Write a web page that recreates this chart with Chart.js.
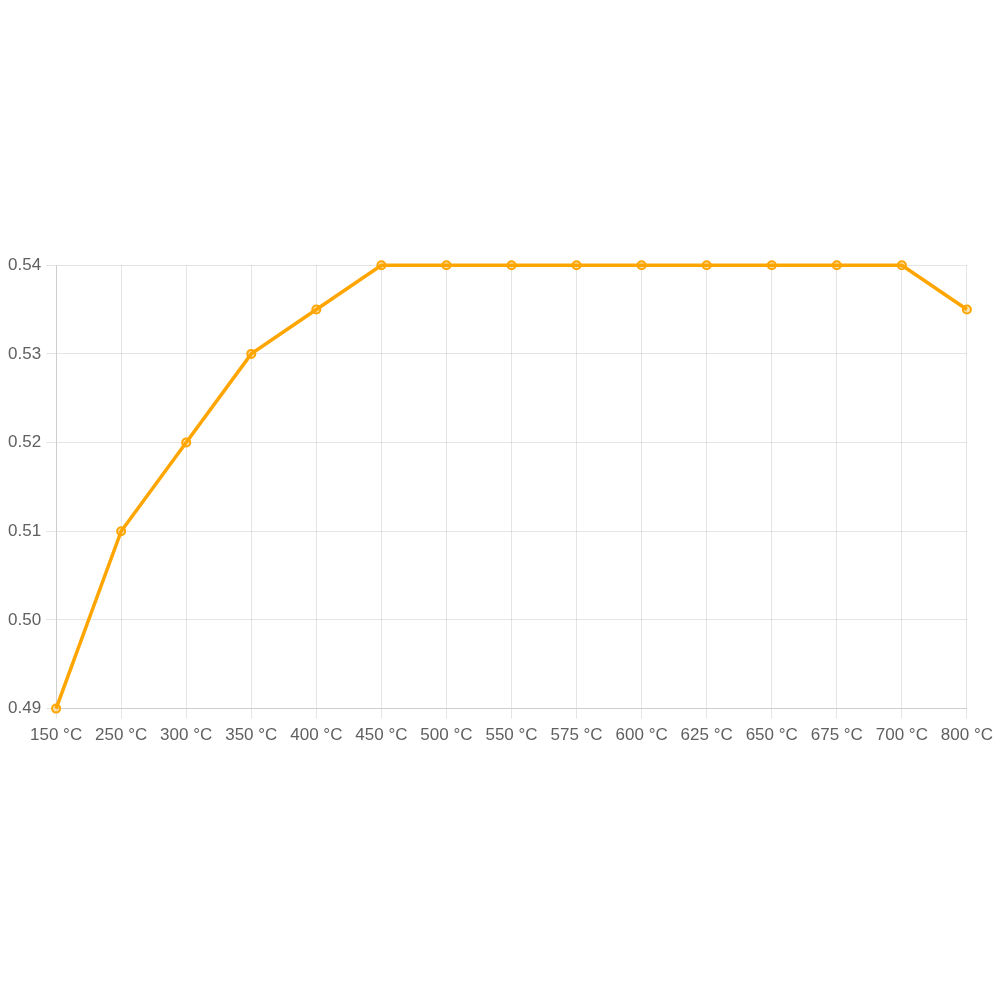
<!DOCTYPE html>
<html>
<head>
<meta charset="utf-8">
<script src="https://cdn.jsdelivr.net/npm/chart.js@4"></script>
<style>
  body { margin: 0; background: #fff; }
  #wrap { position: absolute; left: 0; top: 250px; width: 1000px; height: 503px; }
</style>
</head>
<body>
<div id="wrap"><canvas id="tempChart"></canvas></div>
<script>
const labels = ['150 °C', '250 °C', '300 °C', '350 °C', '400 °C', '450 °C', '500 °C', '550 °C',
                '575 °C', '600 °C', '625 °C', '650 °C', '675 °C', '700 °C', '800 °C'];
const values = [0.49, 0.51, 0.52, 0.53, 0.535, 0.54, 0.54, 0.54, 0.54, 0.54, 0.54, 0.54, 0.54, 0.54, 0.535];
const yMin = 0.49;
const yMax = 0.54;

Chart.defaults.font.family = 'Arial, "Liberation Sans", sans-serif';
Chart.defaults.font.size = 17;
Chart.defaults.color = '#606060';

new Chart(document.getElementById('tempChart'), {
    type: 'line',
    data: {
        labels: labels,
        datasets: [{
            data: values,
            borderColor: 'rgb(255, 165, 0)',
            backgroundColor: 'rgba(255, 165, 0, 0.3)',
            pointBackgroundColor: 'rgba(255, 165, 0, 0.3)',
            pointBorderColor: 'rgb(255, 165, 0)',
            pointBorderWidth: 2,
            pointRadius: 4,
            borderWidth: 3.5,
            tension: 0,
            fill: false,
            clip: false
        }]
    },
    options: {
        responsive: true,
        maintainAspectRatio: false,
        animation: false,
        layout: { padding: { left: 3, right: 3 } },
        plugins: {
            legend: { display: false },
            tooltip: { enabled: false }
        },
        scales: {
            x: {
                grid: { color: 'rgba(0,0,0,0.1)', tickLength: 10 },
                ticks: { maxRotation: 0, autoSkip: false, padding: 7 }
            },
            y: {
                min: yMin,
                max: yMax,
                grid: { color: 'rgba(0,0,0,0.1)', tickLength: 10 },
                ticks: {
                    stepSize: 0.01,
                    padding: 5,
                    callback: v => v.toFixed(2)
                }
            }
        }
    }
});
</script>
</body>
</html>
